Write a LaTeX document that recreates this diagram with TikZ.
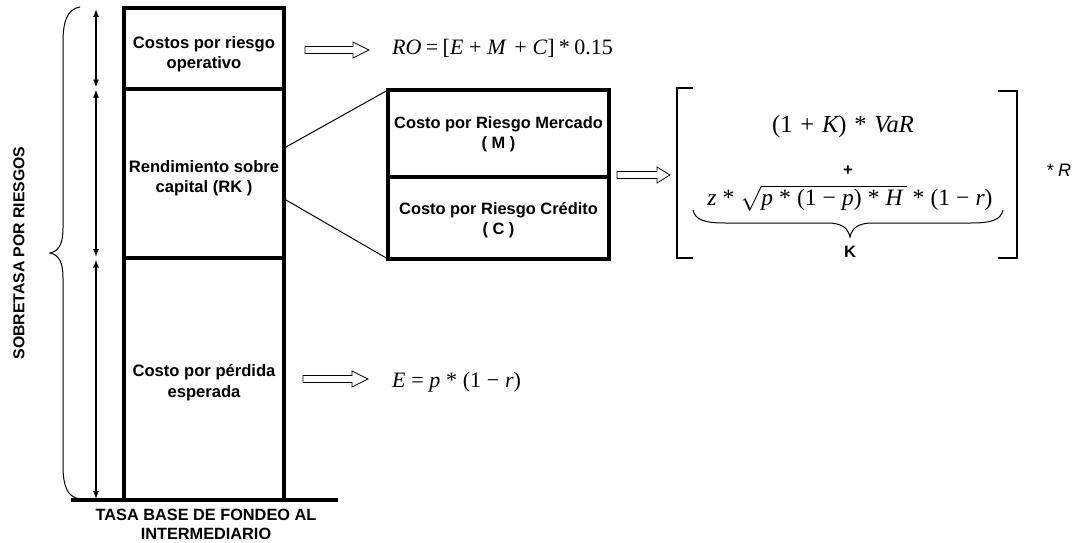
\documentclass[tikz,border=0pt]{standalone}
\usepackage{fontspec}
\setmainfont{Liberation Sans}
\newfontfamily\tms{Liberation Serif}
\usetikzlibrary{arrows.meta}
\newcommand{\fvar}[1]{{\itshape #1}}
\newcommand{\fsp}{\hspace{0.26em}}
\newcommand{\harrow}[4]{\draw[harr] (#1,#3-3.5) -- (#2-#4,#3-3.5) -- (#2-#4,#3-8) -- (#2,#3) -- (#2-#4,#3+8) -- (#2-#4,#3+3.5) -- (#1,#3+3.5) -- cycle;}
\begin{document}
\begin{tikzpicture}[x=1pt,y=-1pt,
  cell/.style={draw, line width=4pt, minimum width=160pt, inner sep=0pt, outer sep=0pt},
  subcell/.style={draw, line width=4pt, minimum width=221pt, inner sep=0pt, outer sep=0pt},
  lbl/.style={font=\fontsize{16.6}{20.5}\selectfont\bfseries, align=center, inner sep=0pt},
  frm/.style={font=\tms\fontsize{22}{26}\selectfont, inner sep=0pt},
  dim/.style={line width=1.3pt, {Latex[length=8pt,width=6pt]}-{Latex[length=8pt,width=6pt]}},
  harr/.style={line width=0.8pt, line join=miter},
  thinline/.style={line width=1pt},
  brk/.style={line width=1.3pt}
]
\useasboundingbox (0,0) rectangle (1073,543);

% main column
\node[cell, minimum height=81pt] (cellA) at (204,48.5) {};
\node[cell, minimum height=169pt] (cellB) at (204,173.5) {};
\node[cell, minimum height=242pt] (cellC) at (204,379) {};
\node[lbl] (tA) at (204,54) {Costos por riesgo\\operativo};
\node[lbl] (tB) at (204,178) {Rendimiento sobre\\capital (RK )};
\node[lbl] (tC) at (204,382.5) {Costo por pérdida\\esperada};

% base line
\coordinate (bL) at (71,500);
\coordinate (bR) at (338,500);
\draw[line width=4pt] (bL) -- (bR);
\node[lbl, font=\fontsize{16.3}{18.5}\selectfont\bfseries] (base) at (206,524.5) {TASA BASE DE FONDEO AL\\INTERMEDIARIO};

% dimension arrows
\coordinate (d0) at (96,9);
\coordinate (d1) at (96,87.5);
\coordinate (d2) at (96,89.5);
\coordinate (d3) at (96,257);
\coordinate (d4) at (96,259.5);
\coordinate (d5) at (96,499);
\draw[dim] (d0) -- (d1);
\draw[dim] (d2) -- (d3);
\draw[dim] (d4) -- (d5);

% big brace
\draw[thinline] (80,7) .. controls (67,9) and (63,22) .. (63,42) -- (63,228)
  .. controls (63,244) and (59,251) .. (50,253)
  .. controls (59,255) and (63,262) .. (63,278) -- (63,465)
  .. controls (63,486) and (67,497) .. (80,499);
\node[lbl, rotate=90, font=\fontsize{15.8}{18}\selectfont\bfseries] (sobre) at (19,253) {SOBRETASA POR RIESGOS};

% sub boxes
\node[subcell, minimum height=87pt] (sbM) at (498.5,133.5) {};
\node[subcell, minimum height=82pt] (sbC) at (498.5,218) {};
\node[lbl, font=\fontsize{16.4}{20.5}\selectfont\bfseries] (tM) at (498.5,134.5) {Costo por Riesgo Mercado\\( M )};
\node[lbl, font=\fontsize{16.4}{20.5}\selectfont\bfseries] (tCr) at (498.5,220) {Costo por Riesgo Crédito\\( C )};
\coordinate (s1) at (286,147);
\coordinate (s2) at (286,200);
\draw[thinline] (s1) -- (sbM.north west);
\draw[thinline] (s2) -- (sbC.south west);

% hollow arrows
\harrow{305}{369}{50}{16}
\harrow{303}{368}{379}{16}
\harrow{617}{670}{175}{13}

% formulas
\node[frm, anchor=base west] (fRO) at (392,55) {\fvar{RO}\hspace{0.2em}=\hspace{0.2em}[\fvar{E}\fsp+\fsp\fvar{M}\hspace{0.4em}+\fsp\fvar{C}]\hspace{0.2em}*\hspace{0.2em}0.15};
\node[frm, anchor=base west] (fE) at (392,387) {\fvar{E}\fsp=\fsp\fvar{p}\fsp*\fsp(1\fsp−\fsp\fvar{r})};

% bracket expression
\draw[brk] (693,88) -- (677,88) -- (677,258) -- (693,258);
\draw[brk] (998,91) -- (1017,91) -- (1017,258) -- (998,258);
\node[frm, anchor=base, font=\tms\fontsize{24.5}{28}\selectfont] (fK) at (843,132) {(1\hspace{0.32em}+\hspace{0.32em}\fvar{K})\hspace{0.32em}*\hspace{0.32em}\fvar{VaR}};
\node[lbl] (plus) at (848,171) {+};
\node[frm, anchor=base, font=\tms\fontsize{23.5}{27}\selectfont] (fZ) at (850,205) {\fvar{z}\fsp*\fsp$\sqrt{\hbox{\tms\fontsize{23.5}{27}\selectfont\fvar{p}\fsp*\fsp(1\fsp−\fsp\fvar{p})\fsp*\fsp\fvar{H}\,}}$\fsp*\fsp(1\fsp−\fsp\fvar{r})};
\draw[thinline] (693,210) .. controls (695,220) and (705,223) .. (725,223) -- (827,223)
  .. controls (842,223) and (848,228) .. (850,237)
  .. controls (852,228) and (858,223) .. (873,223) -- (971,223)
  .. controls (991,223) and (1001,220) .. (1003,210);
\node[lbl] (kk) at (850,252) {K};
\node[inner sep=0pt, font=\fontsize{18}{20}\selectfont\itshape] (starR) at (1058.5,170) {* R};
\end{tikzpicture}
\end{document}
